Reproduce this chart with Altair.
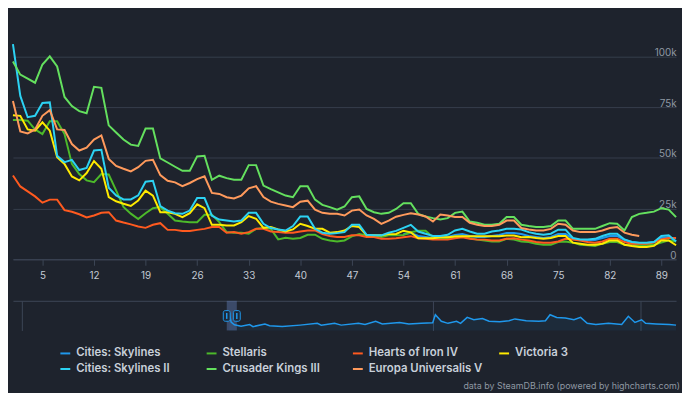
import altair as alt
import pandas as pd

BG = "#1e232d"

days = list(range(1, 92))
tick_days = [5, 12, 19, 26, 33, 40, 47, 54, 61, 68, 75, 82, 89]
y_ticks = [0, 25, 50, 75, 100]

legend_order = ["Cities: Skylines", "Stellaris", "Hearts of Iron IV", "Victoria 3",
                "Cities: Skylines II", "Crusader Kings III", "Europa Universalis V"]
colors = ["#1f98ec", "#4cb92a", "#ff5a1f", "#ffea00", "#2cd2f3", "#64e05e", "#ff9a5c"]

# players, thousands
cities_skylines = [None] * 53 + [
    12.5, 13, 11.5, 11, 10.5, 10.5, 11,
    12, 12.5, 11.5, 11, 11, 11.5, 12, 13, 13, 12.5,
    11.5, 11, 10.5, 11, 12.5, 12.5, 10, 9.5, 9.5, 9.5,
    10.5, 11.5, 11.5, 9.5, 8.5, 8, 8, 8.5, 10.5, 11, 9]
stellaris = [
    68.6, 68.6, 68.3, 64, 61.7, 68, 68, 61.7, 47, 42,
    38.9, 38, 42, 41.8, 34, 25.8, 22.5, 19.8, 22.7, 25.2,
    25.7, 22.4, 19.1, 18.6, 18.3, 18.3, 21.9, 21.9, 18.3, 13.4,
    13.1, 13.1, 12.6, 15, 15.5, 15, 9.8, 10.6, 10.1, 10.5,
    12.1, 12.1, 10.1, 9.3, 8.8, 9.3, 11.3, 12.4, 11.8, 11.8,
    11, 11.8, 11.9, 12, 13.3, 14.1, 14.1, 10.9, 10.4, 10.1,
    11.4, 11.4, 10.4, 9.7, 9.3, 8.8, 8.8, 10.1, 9.7, 8.8,
    8.5, 7.7, 7.2, 7.2, 8.5, 8.8, 8.2, 7.2, 6.9, 6.6,
    7.7, 8.5, 8.5, 7.2, 6.9, 6.9, 6.9, 7.2, 8.2, 9.3, 8.8]
hearts_of_iron = [
    41.3, 35.9, 33.5, 31, 27.9, 29.4, 29.4, 24.2, 23.4, 22.2,
    20.6, 21.6, 22.9, 23.2, 19.1, 18.1, 17.2, 16.2, 15.5, 17,
    17.8, 14.5, 14.5, 13.9, 13.9, 14.5, 15, 15.9, 15.9, 13.1,
    13.4, 12.6, 13.4, 15, 15, 13.7, 13.4, 13.1, 13.1, 13.7,
    14.2, 14.2, 12.4, 11.5, 11, 11, 11.8, 11.8, 11, 11,
    10.1, 10.1, 10.4, 10.9, 11.4, 10.4, 10.1, 9.7, 9.7, 9.7,
    10.4, 10.9, 10.1, 9.7, 9.7, 9.3, 9.3, 10.1, 10.4, 9.7,
    9.3, 8.5, 8.2, 8.2, 8.8, 10.1, 9.8, 9.3, 8.5, 8.2,
    8.8, 10.1, 10.1, 8.5, 7.7, 7.7, 7.7, 8.2, 9.8, 10.5, 10.5]
victoria = [
    71, 70.7, 64, 63.4, 67.5, 63.4, 50.3, 47, 40.8, 38.9,
    42.5, 48.4, 44.6, 30.7, 28.6, 27.4, 26.3, 29, 33.8, 31.4,
    23.2, 23.2, 22.4, 20.8, 22.7, 27.1, 25.2, 17, 17, 16.7,
    16.7, 18.3, 21.3, 20, 15.5, 15.9, 14.7, 13.7, 14.7, 17.5,
    16.4, 15, 15, 13.1, 13.4, 14.2, 16.4, 15.9, 11.8, 11.8,
    11.8, 12.4, 12.5, 14.1, 13.3, 10.4, 10.4, 10.4, 10.9, 10.9,
    11.2, 11.4, 11.4, 11.4, 11.4, 11.4, 11.4, 11.7, 11.7, 10.9,
    11, 10.5, 10.1, 10.5, 11.5, 11.5, 8.2, 7.7, 7.2, 7.2,
    7.7, 9.3, 9.3, 7.2, 6.6, 6.1, 6.1, 6.6, 9.3, 9.3, 6.9]
cities_skylines_2 = [
    106, 80.5, 70, 70.7, 77, 77.3, 51, 47.9, 49, 44,
    45, 53.6, 54, 35.3, 31.5, 29.5, 29.5, 31.5, 38.2, 38.7,
    26.2, 24, 22.7, 22.4, 24, 30.2, 30.2, 21.5, 19.6, 19.1,
    18.6, 19.1, 22.9, 22.9, 17.5, 15.4, 14.7, 14.2, 16.4, 21.1,
    21.1, 15, 13.1, 12.6, 12.9, 13.4, 17, 17, 12.1, 11.8,
    11.8, 13.1, 14, 15.5, 17, 13.7, 12.6, 11.5, 11.5, 12.1,
    14.2, 15, 13.7, 12.6, 12.6, 13.7, 14.2, 15, 15, 14.7,
    13.4, 12.6, 12.1, 12.6, 14.6, 14.6, 10.5, 9.8, 9.8, 10.1,
    11.5, 12.6, 12.6, 9.8, 8.5, 8.2, 8.2, 8.5, 11.5, 11.8, 8.8]
crusader_kings = [
    97.5, 91, 89, 87, 96, 100, 95, 80, 75.5, 73,
    72, 85, 84.5, 66, 62.5, 59, 56.5, 55.9, 64.4, 64.4,
    49.7, 47.7, 45.6, 43.6, 43.6, 50.7, 51, 39.2, 41.2, 40,
    39.2, 39.2, 46.4, 46.4, 36.3, 34.6, 33, 31.4, 30.6, 36,
    36, 29.4, 26.8, 25.7, 24.5, 26, 30.6, 31, 24.8, 23.2,
    22.4, 22.9, 24.8, 27.6, 27.6, 22.4, 21.1, 20.3, 19.6, 20.3,
    22.9, 23.5, 18.6, 18, 17, 17, 17.5, 20.8, 20.8, 17,
    16.4, 15.9, 15.9, 16.4, 19.1, 19.1, 15, 15, 15, 15,
    16.4, 17.8, 17.5, 14.2, 20.8, 22.4, 22.9, 23.5, 25.2, 24.5, 20.8]
europa = [
    78, 63, 62, 64, 70.7, 73.5, 64, 63.7, 56.8, 53.6,
    55, 59, 61, 49.5, 46, 44.6, 43.3, 45.4, 48.5, 49,
    41.5, 38.7, 37.9, 36, 37.6, 39.5, 40.9, 32.7, 32.2, 30.6,
    30, 31.4, 35, 36, 30.7, 28.4, 27.3, 26.5, 25.7, 28.4,
    28.9, 24.5, 22.9, 22.4, 22.4, 21.6, 24, 24.5, 21.6, 19.9,
    17.5, 19.1, 21, 21.9, 22.7, 22.1, 21.1, 18.6, 22.1, 21.6,
    20.8, 20.8, 18, 17, 16.4, 16.4, 17, 19.1, 19.1, 15.4,
    14.7, 14.2, 14.2, 15, 17.5, 17, 14.2, 13.4, 13.4, 13.4,
    14.2, 15.4, 15.9, 13.1, 12.1, 11.5] + [None] * 5

series = [
    ("Cities: Skylines", cities_skylines),
    ("Stellaris", stellaris),
    ("Hearts of Iron IV", hearts_of_iron),
    ("Victoria 3", victoria),
    ("Cities: Skylines II", cities_skylines_2),
    ("Crusader Kings III", crusader_kings),
    ("Europa Universalis V", europa),
]

rows = []
for i, (name, vals) in enumerate(series):
    for d, v in zip(days, vals):
        if v is not None:
            rows.append({"day": d, "game": name, "players": v, "ord": i})
df = pd.DataFrame(rows)

# navigator (overall history, relative scale)
nav_t = [326, 329, 334, 344, 357, 362, 380, 387, 406, 433, 459, 465, 485, 495, 521, 531,
         547, 557, 583, 597, 616, 633, 637, 646, 656, 669, 675, 685, 695, 708, 718, 734,
         748, 757, 774, 793, 803, 810, 820, 833, 846, 856, 866, 879, 898, 918, 928, 938,
         948, 954, 970, 990, 1000]
nav_v = [61, 28, 19, 14, 20, 13, 22, 16, 13, 18, 24, 18, 24, 18, 24, 20,
         31, 22, 27, 22, 24, 26, 53, 31, 24, 31, 24, 44, 36, 40, 31, 29,
         33, 39, 33, 31, 33, 53, 44, 42, 36, 44, 24, 20, 24, 20, 48, 27,
         36, 24, 22, 20, 18]
nav_grid = [13, 634, 946]
sel_start, sel_end = [322.4], [337.6]
handle_centers = [322.4, 337.6]

nav_df = pd.DataFrame({"t": nav_t, "v": nav_v})
sel_df = pd.DataFrame({"a": sel_start, "b": sel_end})
handle_df = pd.DataFrame({"c": handle_centers})
handle_df["l"] = handle_df["c"] - 5.2
handle_df["r"] = handle_df["c"] + 5.2
handle_df["y0"] = 31
handle_df["y1"] = 67
handle_df["i0"] = 39
handle_df["i1"] = 59

FONT = "Inter"

main = alt.Chart(df).mark_line(strokeWidth=2).encode(
    x=alt.X("day:Q", scale=alt.Scale(domain=[1, 91], nice=False, zero=False),
            axis=alt.Axis(values=tick_days, title=None, grid=False, domain=True,
                          domainColor="#3d4656", ticks=True, tickColor="#3d4656",
                          tickSize=6, labelColor="#c3cad4", labelFontSize=10,
                          labelPadding=5, labelFont=FONT)),
    y=alt.Y("players:Q", scale=alt.Scale(domain=[0, 112], nice=False),
            axis=alt.Axis(orient="right", values=y_ticks, title=None,
                          labelExpr="datum.value == 0 ? '0' : datum.value + 'k'",
                          grid=True, gridColor="#363e4b", domain=False, ticks=False,
                          tickSize=0, labelAlign="right", labelBaseline="alphabetic",
                          labelPadding=0, labelOffset=-1, labelColor="#8f98a3",
                          labelFontSize=10, labelFont=FONT)),
    color=alt.Color("game:N", scale=alt.Scale(domain=legend_order, range=colors),
                    legend=alt.Legend(orient="none", legendX=47, legendY=319,
                                      direction="horizontal", columns=4, gridAlign="all",
                                      columnPadding=12, rowPadding=4, title=None,
                                      symbolType="stroke", symbolStrokeWidth=2,
                                      symbolSize=100, labelFont=FONT, labelFontSize=11.5,
                                      labelFontWeight=600, labelColor="#c8d0da",
                                      labelOffset=5)),
    detail="ord:O",
).properties(width=671, height=230)

nav_x = alt.X("t:Q", scale=alt.Scale(domain=[0, 1000], nice=False, zero=False),
              axis=alt.Axis(orient="top", values=nav_grid, grid=True, gridColor="#3d4656",
                            domain=True, domainColor="#3d4656", ticks=False, labels=False,
                            title=None))
nav_y = alt.Y("v:Q", scale=alt.Scale(domain=[0, 100], nice=False), axis=None)

nav_area = alt.Chart(nav_df).mark_area(color="#1f98ec", opacity=0.07).encode(x=nav_x, y=nav_y)
nav_line = alt.Chart(nav_df).mark_line(color="#1f98ec", strokeWidth=1.5).encode(x=nav_x, y=nav_y)
sel = alt.Chart(sel_df).mark_rect(color="#6685c2", opacity=0.4).encode(
    x=alt.X("a:Q"), x2="b:Q")
handles = alt.Chart(handle_df).mark_rect(fill="#1e2a3a", stroke="#1f98ec", strokeWidth=1,
                                         cornerRadius=2).encode(
    x="l:Q", x2="r:Q", y=alt.Y("y0:Q"), y2="y1:Q")
handle_lines = alt.Chart(handle_df).mark_rule(color="#1f98ec", strokeWidth=1.5).encode(
    x="c:Q", y="i0:Q", y2="i1:Q")

nav = alt.layer(nav_area, sel, nav_line, handles, handle_lines).properties(width=671, height=30)

chart = alt.vconcat(main, nav, spacing=21).properties(
    background=BG,
    padding={"left": 1, "top": 22, "right": 2, "bottom": 0},
    title=alt.TitleParams("data by SteamDB.info (powered by highcharts.com)", orient="bottom",
                          anchor="end", fontSize=9, color="#8f98a3", fontWeight="normal",
                          font=FONT, offset=7),
).configure_view(strokeWidth=0)

chart.save("out.html", embed_options={"renderer": "svg", "actions": False})
